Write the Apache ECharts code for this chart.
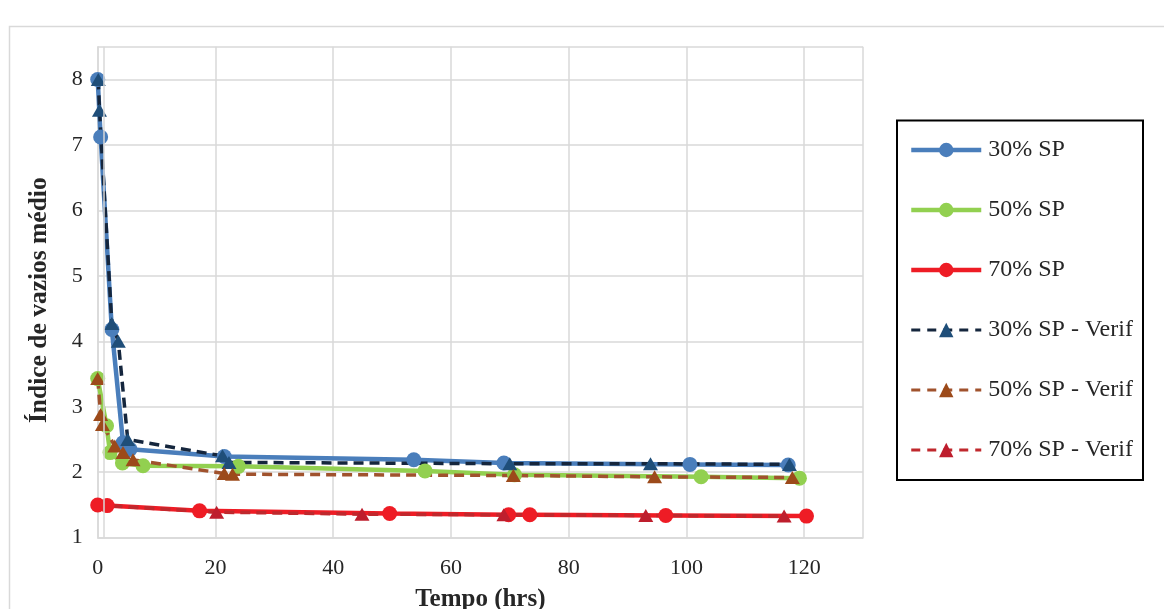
<!DOCTYPE html>
<html>
<head>
<meta charset="utf-8">
<script src="https://cdn.jsdelivr.net/npm/echarts@6/dist/echarts.min.js"></script>
<style>
html,body{margin:0;padding:0;background:#fff;}
#chart{width:1164px;height:609px;}
</style>
</head>
<body>
<div id="chart"></div>
<script>
// ---- data: [tempo (hrs), índice de vazios médio] ----
const seriesNames = ['30% SP', '50% SP', '70% SP', '30% SP - Verif', '50% SP - Verif', '70% SP - Verif'];
const sp30 = [[0,8.00],[0.5,7.12],[2.4,4.18],[4.3,2.45],[5.5,2.35],[21.5,2.24],[53.7,2.19],[69.0,2.14],[100.6,2.12],[117.3,2.11]];
const sp50 = [[0,3.43],[1.5,2.71],[2.1,2.30],[4.2,2.14],[7.7,2.10],[23.9,2.09],[55.6,2.02],[70.8,1.96],[102.5,1.93],[119.2,1.91]];
const sp70 = [[0,1.50],[1.6,1.49],[17.3,1.41],[49.6,1.37],[69.8,1.35],[73.4,1.35],[96.5,1.34],[120.4,1.33]];
const sp30v = [[0.1,8.00],[0.3,7.53],[2.4,4.27],[3.5,4.00],[5.1,2.50],[21.2,2.25],[22.3,2.15],[70.0,2.13],[93.9,2.13],[117.5,2.12]];
const sp50v = [[0,3.43],[0.5,2.88],[0.8,2.73],[2.9,2.40],[4.3,2.30],[6.0,2.19],[21.5,1.98],[22.9,1.97],[70.6,1.95],[94.6,1.93],[118.0,1.92]];
const sp70v = [[-0.2,1.50],[20.2,1.39],[44.9,1.36],[69.0,1.35],[93.1,1.34],[116.6,1.33]];
const xTicks = [0, 20, 40, 60, 80, 100, 120];
const yTicks = [1, 2, 3, 4, 5, 6, 7, 8];
const crossAt = 1.1; // position of the extra vertical axis line

const FONT = 'Liberation Serif';
const GRID = '#d9d9d9';

function solid(name, data, color) {
  return {
    name, type: 'line', data,
    symbol: 'circle', symbolSize: 15,
    itemStyle: { color },
    lineStyle: { color, width: 4.5 },
    emphasis: { disabled: true }, animation: false
  };
}
function dashed(name, data, lineColor, markColor) {
  return {
    name, type: 'line', data,
    symbol: 'triangle', symbolSize: [15, 13],
    itemStyle: { color: markColor },
    lineStyle: { color: lineColor, width: 3.5, type: [10, 6] },
    emphasis: { disabled: true }, animation: false
  };
}

const series = [
  solid(seriesNames[0], sp30, '#4a7ebb'),
  solid(seriesNames[1], sp50, '#92d050'),
  solid(seriesNames[2], sp70, '#ee1c25'),
  dashed(seriesNames[3], sp30v, '#15263d', '#1f4e79'),
  dashed(seriesNames[4], sp50v, '#a0522d', '#9c4a1a'),
  dashed(seriesNames[5], sp70v, '#c0282d', '#be1e2d')
];
series[0].markLine = {
  silent: true, symbol: 'none', label: { show: false },
  lineStyle: { color: GRID, width: 1.5, type: 'solid' },
  data: [{ xAxis: crossAt }], animation: false
};

const legendData = series.map(s => ({
  name: s.name,
  lineStyle: { width: s.symbol === 'circle' ? 4.5 : 3, type: s.symbol === 'circle' ? 'solid' : [9, 7], color: s.lineStyle.color }
}));

const chart = echarts.init(document.getElementById('chart'), null, { renderer: 'canvas' });
chart.setOption({
  backgroundColor: '#fff',
  animation: false,
  textStyle: { fontFamily: FONT },
  graphic: [
    { type: 'rect', shape: { x: 9.5, y: 26.5, width: 1200, height: 700 },
      style: { fill: 'none', stroke: GRID, lineWidth: 1.5 }, z: -10, silent: true },
    { type: 'rect', shape: { x: 897, y: 120.5, width: 246, height: 359.5 },
      style: { fill: '#fff', stroke: '#000', lineWidth: 2 }, z: 0, silent: true }
  ],
  grid: { left: 97.7, right: 301, top: 46.7, bottom: 71.3, containLabel: false, outerBoundsMode: 'none' },
  xAxis: {
    type: 'value', min: 0, max: 130, interval: 20,
    name: 'Tempo (hrs)', nameLocation: 'middle', nameGap: 49,
    nameTextStyle: { fontFamily: FONT, fontWeight: 'bold', fontSize: 25, color: '#262626' },
    axisLine: { show: true, lineStyle: { color: GRID, width: 1.5 } },
    axisTick: { show: false },
    axisLabel: { fontFamily: FONT, fontSize: 22, color: '#262626', margin: 20,
      showMaxLabel: false, formatter: v => xTicks.includes(v) ? String(v) : '' },
    splitLine: { show: true, lineStyle: { color: GRID, width: 1.5 } }
  },
  yAxis: {
    type: 'value', min: 1, max: 8.5, interval: 1,
    name: 'Índice de vazios médio', nameLocation: 'middle', nameGap: 45, nameRotate: 90,
    nameTextStyle: { fontFamily: FONT, fontWeight: 'bold', fontSize: 25.5, color: '#262626',
      padding: [0, 16, 0, 0] },
    axisLine: { show: true, lineStyle: { color: GRID, width: 1.5 } },
    axisTick: { show: false },
    axisLabel: { fontFamily: FONT, fontSize: 22, color: '#262626', margin: 15,
      showMaxLabel: false, formatter: v => yTicks.includes(v) ? String(v) : '' },
    splitLine: { show: true, lineStyle: { color: GRID, width: 1.5 } }
  },
  legend: {
    orient: 'vertical', left: 904, top: 133,
    itemWidth: 70, itemHeight: 18, itemGap: 36,
    data: legendData,
    textStyle: { fontFamily: FONT, fontSize: 24, color: '#262626', lineHeight: 24, padding: [0, 0, 0, 2] },
    selectedMode: false
  },
  series
});
</script>
</body>
</html>
